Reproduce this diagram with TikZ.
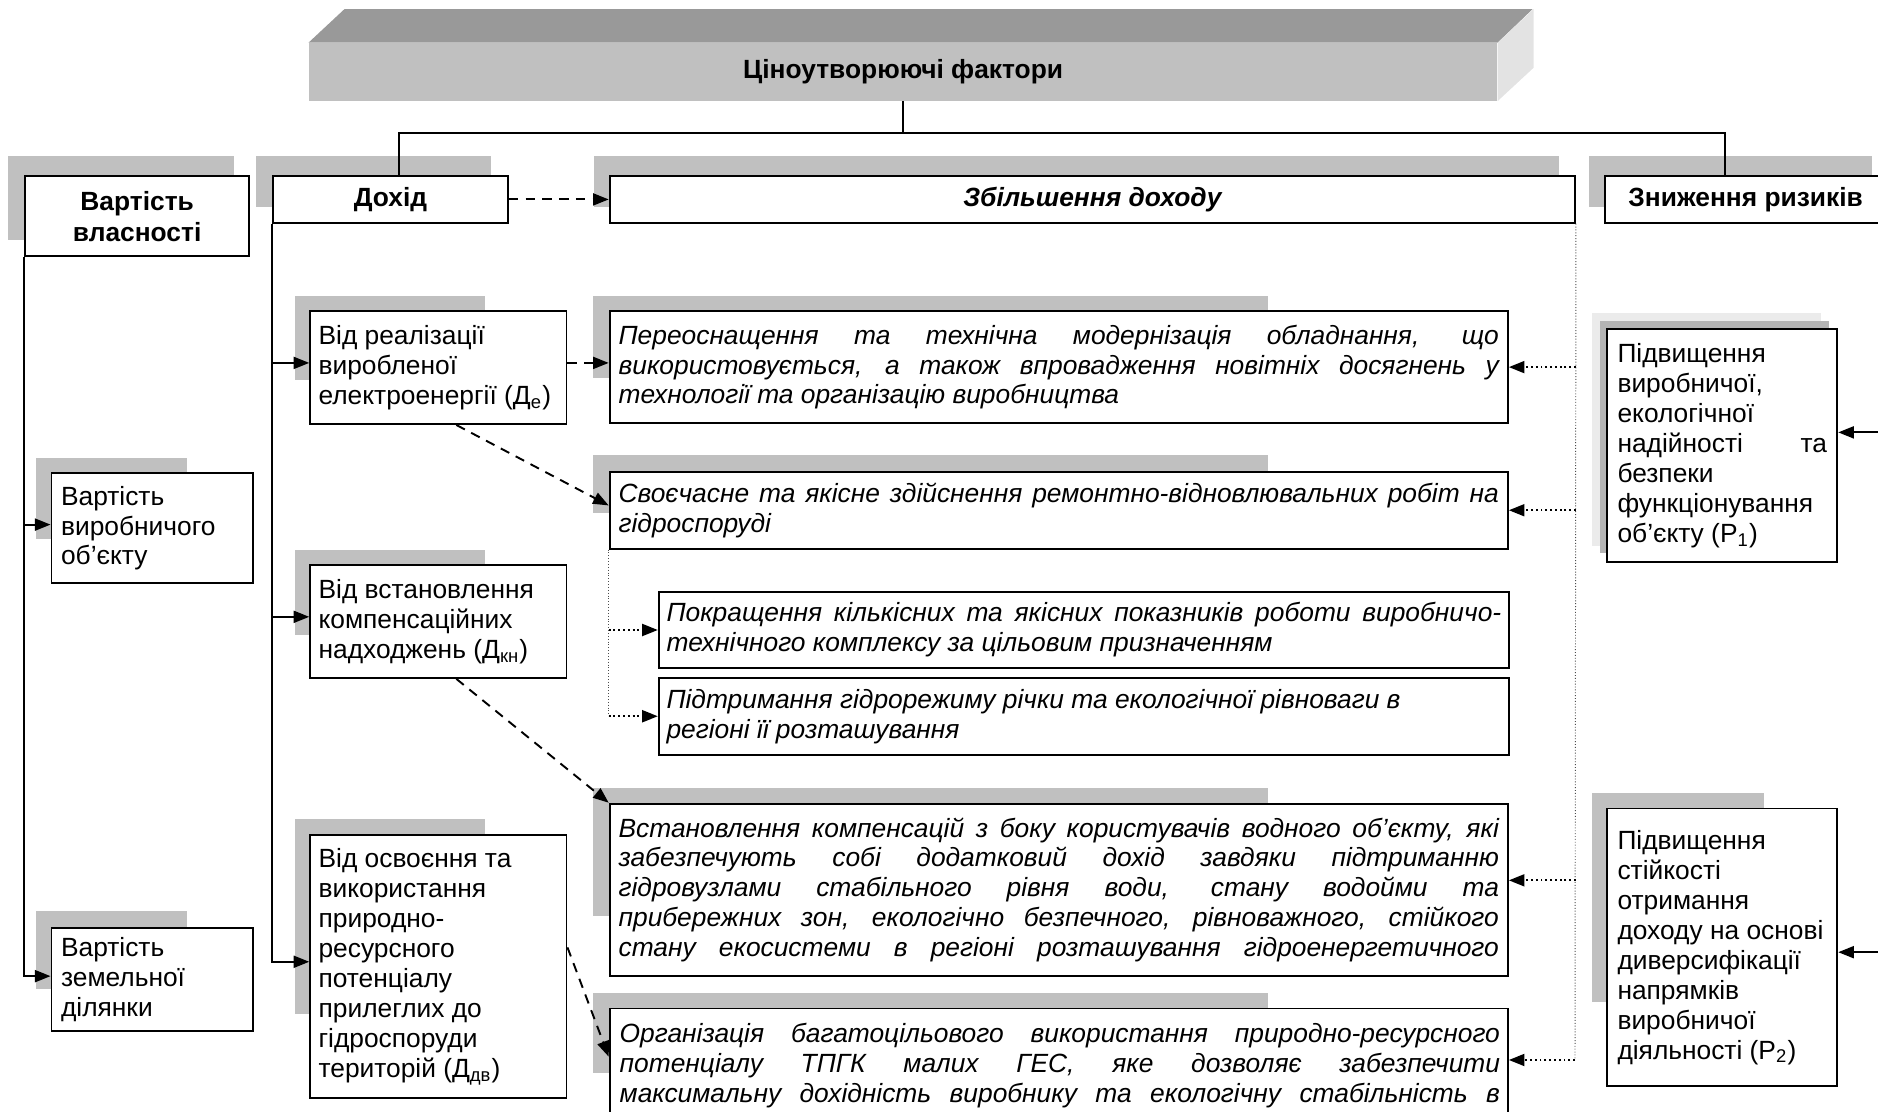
\documentclass[tikz,border=0pt]{standalone}
\usepackage{fontspec}
\setmainfont{Liberation Sans}
\usetikzlibrary{arrows.meta,calc}
\setlength{\parindent}{0pt}
\hbadness=10000
\definecolor{shadowgray}{HTML}{C0C0C0}
\definecolor{bantop}{HTML}{999999}
\definecolor{banfront}{HTML}{C0C0C0}
\definecolor{banside}{HTML}{E3E3E3}
\definecolor{shlight}{HTML}{EBEBEB}
\definecolor{shdark}{HTML}{B4B4B4}
\newcommand\jl[2][367.5pt]{\makebox[#1][s]{\spaceskip=0pt\xspaceskip=0pt #2}\\}
\newcommand\jlast[2][367.5pt]{\makebox[#1][s]{\spaceskip=0pt\xspaceskip=0pt #2}}
\begin{document}
\begin{tikzpicture}[x=0.5pt,y=-0.5pt,
  rect/.style n args={4}{minimum width={(#3-#1)*0.5pt}, minimum height={(#4-#2)*0.5pt}, at={({(#1+#3)/2},{(#2+#4)/2})}},
  box/.style={draw, line width=0.8pt, fill=white, inner sep=0pt},
  body/.style={font=\fontsize{11}{12.5}\selectfont, align=left, execute at begin node={\spaceskip=0pt\xspaceskip=0pt}},
  ital/.style={font=\fontsize{11}{12.5}\selectfont\itshape, align=left, execute at begin node={\spaceskip=0pt\xspaceskip=0pt}},
  hdr/.style={font=\fontsize{11}{13}\selectfont\bfseries, align=center},
  shd/.style={fill=shadowgray},
  conn/.style={line width=0.8pt},
  arr/.style={line width=0.8pt, -{Triangle[length=6.5pt,width=5pt]}},
  dasharr/.style={arr, dash pattern=on 4pt off 3pt},
  dotarr/.style={arr, dash pattern=on 0.8pt off 1.2pt},
  thindot/.style={line width=0.4pt, black!70, dash pattern=on 0.4pt off 0.8pt},
]
\useasboundingbox (0,0) rectangle (1568,928);
\clip (0,0) rectangle (1568,928);

% ---------- banner ----------
\node[rect={258}{36}{1250}{84}, inner sep=0pt, fill=banfront, hdr] (ban) {Ціноутворюючі фактори};
\fill[bantop] (ban.north west) -- ++(30,-28) -- ++(992,0) -- (ban.north east) -- cycle;
\fill[banside] (ban.north east) -- ++(30,-28) -- ++(0,49) -- (ban.south east) -- cycle;

% ---------- shadows ----------
\fill[shd] (7,130) rectangle (195,200);
\fill[shd] (214,130) rectangle (410,173);
\fill[shd] (496,130) rectangle (1302,173);
\fill[shd] (1327,130) rectangle (1563,173);
\fill[shd] (246,247) rectangle (405,317);
\fill[shd] (30,382) rectangle (156,450);
\fill[shd] (246,459) rectangle (405,530);
\fill[shd] (30,761) rectangle (156,826);
\fill[shd] (246,684) rectangle (405,847);
\fill[shd] (495,247) rectangle (1059,316);
\fill[shd] (495,380) rectangle (1059,428);
\fill[shd] (495,658) rectangle (1059,765);
\fill[shd] (495,829) rectangle (1059,896);
\fill[shlight] (1329,261) rectangle (1520,456);
\fill[shdark] (1336,268) rectangle (1527,462);
\fill[shd] (1329,662) rectangle (1473,837);

% ---------- top row ----------
\node[box, rect={21}{147}{208}{214}, hdr] (vv) {Вартість\\власності};
\node[box, rect={228}{147}{424}{186}, hdr] (dohid) {Дохід};
\node[box, rect={509}{147}{1315}{186}, hdr, font=\fontsize{11}{13}\selectfont\bfseries\itshape] (zb) {Збільшення доходу};
\node[box, rect={1340}{147}{1575}{186}, hdr] (zr) {Зниження ризиків};

% ---------- left column ----------
\node[box, rect={43}{395}{211}{487}, body, text width=76pt] (vvo) {Вартість\\виробничого\\об’єкту};
\node[box, rect={43}{775}{211}{861}, body, text width=76pt] (vzd) {Вартість\\земельної\\ділянки};

% ---------- income sources ----------
\node[box, rect={259}{260}{473}{354}, body, text width=100pt] (vr) {Від реалізації\\виробленої\\електроенергії (Д\textsubscript{е})};
\node[box, rect={259}{472}{473}{566}, body, text width=100pt] (vvs) {Від встановлення\\компенсаційних\\надходжень (Д\textsubscript{кн})};
\node[box, rect={259}{697}{473}{917}, body, text width=100pt] (vos) {Від освоєння та\\використання\\природно-\\ресурсного\\потенціалу\\прилеглих до\\гідроспоруди\\територій (Д\textsubscript{дв})};

% ---------- income increase ----------
\node[box, rect={509}{260}{1259}{353}, ital, text width=367.5pt] (per) {\jl{Переоснащення та технічна модернізація обладнання, що}\jl{використовується, а також впровадження новітніх досягнень у}технології та організацію виробництва};
\node[box, rect={509}{394}{1259}{458}, ital, text width=367.5pt] (svo) {\jl{Своєчасне та якісне здійснення ремонтно-відновлювальних робіт на}гідроспоруді};
\node[box, rect={550}{494}{1260}{558}, ital, text width=348.5pt] (pok) {\jl[348.5pt]{Покращення кількісних та якісних показників роботи виробничо-}технічного комплексу за цільовим призначенням};
\node[box, rect={550}{566}{1260}{630}, ital, text width=348.5pt] (pid) {Підтримання гідрорежиму річки та екологічної рівноваги в\\регіоні її розташування};
\node[box, rect={509}{671}{1259}{815}, ital, text width=367.5pt] (vst) {\jl{Встановлення компенсацій з боку користувачів водного об’єкту, які}\jl{забезпечують собі додатковий дохід завдяки підтриманню}\jl{гідровузлами стабільного рівня води, стану водойми та}\jl{прибережних зон, екологічно безпечного, рівноважного, стійкого}\jlast{стану екосистеми в регіоні розташування гідроенергетичного}};
\node[box, rect={509}{842}{1259}{1000}] (org) {};
\node[ital, text width=367.5pt, inner sep=0pt, anchor=north west] (orgtxt) at (517,854) {\jl{Організація багатоцільового використання природно-ресурсного}\jl{потенціалу ТПГК малих ГЕС, яке дозволяє забезпечити}\jlast{максимальну дохідність виробнику та екологічну стабільність в}};

% ---------- risk reduction ----------
\node[box, rect={1342}{275}{1534}{469}, body, text width=87.5pt] (pv) {Підвищення\\виробничої,\\екологічної\\\jl[87.5pt]{надійності та}безпеки\\функціонування\\об’єкту (Р\textsubscript{1})};
\node[box, rect={1342}{675}{1534}{907}, body, text width=87.5pt] (ps) {Підвищення\\стійкості\\отримання\\доходу на основі\\диверсифікації\\напрямків\\виробничої\\діяльності (Р\textsubscript{2})};

% ---------- connectors ----------
\coordinate (j) at (755,111);
\draw[conn] (ban.south) -- (ban.south |- j);
\draw[conn] ([xshift=3.5pt]dohid.north) |- (ban.south |- j) -| ([xshift=-8.75pt]zr.north);

\draw[arr] (vv.south west) |- ([yshift=1.5pt]vvo.west);
\draw[arr] (vv.south west) |- ([yshift=1.5pt]vzd.west);
\draw[arr] (dohid.south west) |- ([yshift=2pt]vr.west);
\draw[arr] (dohid.south west) |- ([yshift=2pt]vvs.west);
\draw[arr] (dohid.south west) |- ([yshift=2pt]vos.west);

\draw[dasharr] (dohid) -- (zb);
\draw[dasharr] ([yshift=2pt]vr.east) -- ([yshift=2pt]vr.east -| per.west);
\draw[dasharr] ([xshift=7.5pt]vr.south) -- ([yshift=2pt]svo.west);
\draw[dasharr] ([xshift=7.5pt]vvs.south) -- (vst.north west);
\draw[dasharr] ([yshift=8pt]vos.east) -- ($(org.north west)+(0,41)$);

\coordinate (dv) at (1315,885);
\coordinate (v3) at ($(vst.east)+(0,-8)$);
\draw[thindot] (zb.south east) -- (dv);
\draw[dotarr] (zb.south east |- per.east) -- (per.east);
\draw[dotarr] (zb.south east |- svo.east) -- (svo.east);
\draw[dotarr] (zb.south east |- v3) -- (v3);
\draw[dotarr] (dv) -- (dv -| org.east);

\draw[thindot] (svo.south west) -- (svo.south west |- pid.west);
\draw[dotarr] (svo.south west |- pok.west) -- (pok.west);
\draw[dotarr] (svo.south west |- pid.west) -- (pid.west);

\coordinate (r1) at (1600,361);
\coordinate (r2) at (1600,795);
\draw[arr] (r1) -- (r1 -| pv.east);
\draw[arr] (r2) -- (r2 -| ps.east);
\end{tikzpicture}
\end{document}
